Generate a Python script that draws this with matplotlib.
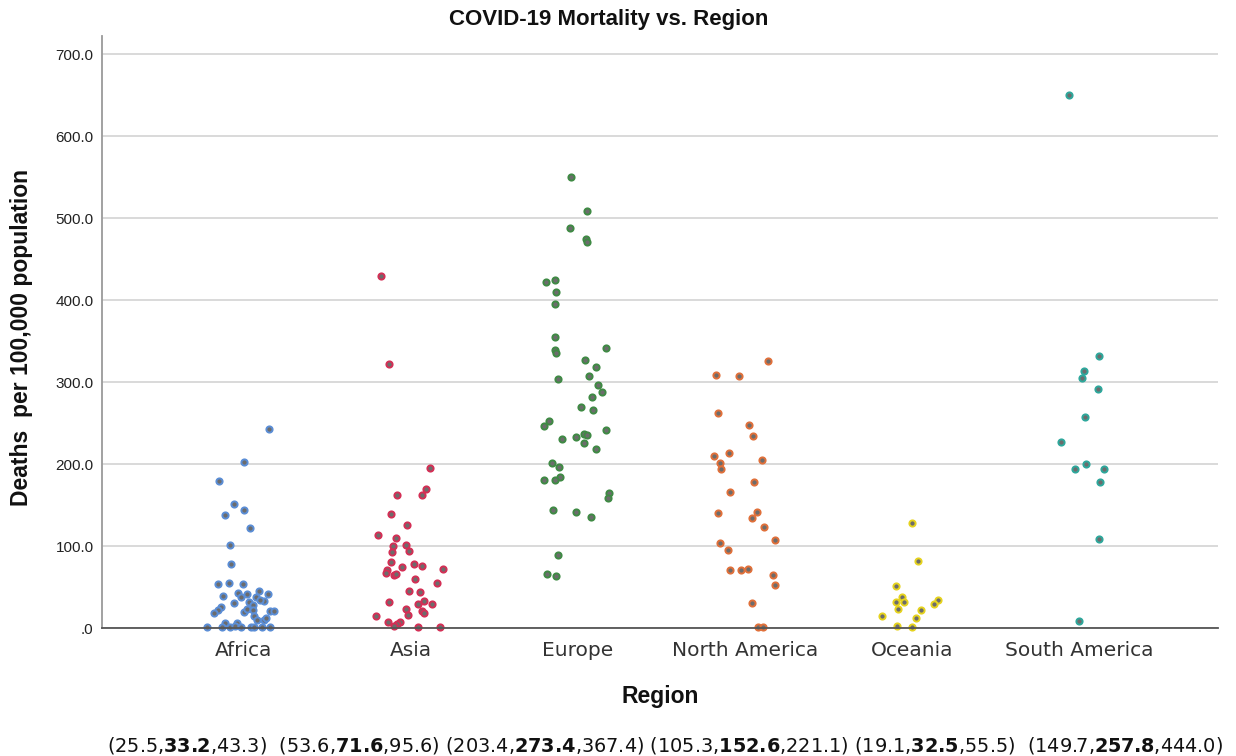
import matplotlib
matplotlib.use("Agg")
import matplotlib.pyplot as plt
from matplotlib.ticker import FuncFormatter

# ---- data -------------------------------------------------------------
regions = ["Africa", "Asia", "Europe", "North America", "Oceania", "South America"]

africa = [242.7, 202.8, 179.7, 151.2, 144.3, 137.8, 121.5, 101.6, 77.7, 53.3,
          54.5, 53.3, 45.5, 41.8, 43.1, 39.0, 41.1, 37.8, 37.8, 33.3,
          34.1, 31.3, 30.1, 28.0, 26.0, 22.0, 18.7, 19.5, 22.8, 22.0,
          20.3, 20.3, 14.6, 9.8, 9.8, 11.8, 6.5, 6.5, 1.2, 1.2,
          1.2, 2.4, 1.2, 1.2, 1.2, 1.2, 1.2]
africa_dx = [0.152, 0.002, -0.146, -0.058, 0.004, -0.110, 0.042, -0.078, -0.074, -0.154,
             -0.084, 0.000, 0.096, 0.146, -0.032, -0.120, 0.022, -0.014, 0.074, 0.122,
             0.098, 0.036, -0.058, 0.060, -0.136, -0.150, -0.178, 0.002, 0.022, 0.058,
             0.158, 0.182, 0.066, 0.082, 0.126, 0.138, -0.108, -0.038, -0.217, -0.128,
             -0.078, -0.052, -0.012, 0.046, 0.066, 0.112, 0.158]

asia = [429.7, 321.5, 194.7, 169.5, 162.2, 162.6, 139.0, 125.6, 113.0, 109.4,
        100.0, 101.6, 93.9, 93.1, 80.5, 78.0, 76.0, 74.8, 70.7, 72.3,
        66.7, 64.6, 65.9, 60.1, 55.3, 45.5, 43.9, 32.1, 33.3, 29.6,
        28.9, 22.8, 20.7, 16.2, 18.3, 14.6, 7.7, 7.3, 5.2, 2.4,
        1.2, 1.2]
asia_dx = [-0.178, -0.130, 0.116, 0.094, 0.070, -0.080, -0.116, -0.020, -0.193, -0.084,
           -0.102, -0.026, -0.006, -0.112, -0.118, 0.020, 0.070, -0.050, -0.138, 0.196,
           -0.146, -0.098, -0.084, 0.026, 0.158, -0.008, 0.058, -0.130, 0.082, 0.126,
           0.048, -0.028, 0.066, -0.014, 0.080, -0.208, -0.132, -0.060, -0.078, -0.098,
           0.046, 0.176]

europe = [550.0, 508.9, 488.2, 474.0, 470.7, 424.4, 422.0, 409.8, 395.5, 354.9,
          341.1, 339.0, 335.8, 326.8, 318.3, 306.9, 304.1, 296.0, 287.8, 281.3,
          269.9, 265.5, 252.8, 246.7, 241.1, 236.2, 235.8, 233.3, 230.9, 226.0,
          217.9, 200.8, 196.3, 183.7, 180.5, 180.5, 165.0, 158.9, 144.3, 141.8,
          135.8, 89.4, 65.9, 63.4]
europe_dx = [-0.038, 0.054, -0.044, 0.048, 0.054, -0.138, -0.190, -0.130, -0.138, -0.138,
             0.170, -0.136, -0.128, 0.046, 0.108, 0.070, -0.116, 0.124, 0.146, 0.086,
             0.020, 0.090, -0.174, -0.202, 0.170, 0.040, 0.054, -0.010, -0.092, 0.040,
             0.110, -0.154, -0.114, -0.106, -0.134, -0.204, 0.190, 0.180, -0.148, -0.012,
             0.080, -0.120, -0.182, -0.130]

north_america = [326.0, 308.5, 306.9, 261.8, 247.6, 233.7, 213.8, 209.8, 204.9, 200.8,
                 194.3, 178.0, 165.9, 139.8, 141.5, 134.6, 123.2, 107.7, 104.1, 95.1,
                 71.1, 71.1, 72.0, 64.6, 52.4, 30.5, 1.6, 1.6]
north_america_dx = [0.136, -0.174, -0.032, -0.162, 0.022, 0.048, -0.096, -0.186, 0.104, -0.150,
                    -0.142, 0.056, -0.086, -0.160, 0.074, 0.040, 0.116, 0.182, -0.150, -0.098,
                    -0.090, -0.026, 0.020, 0.166, 0.180, 0.042, 0.076, 0.108]

oceania = [127.6, 81.7, 51.2, 38.2, 32.1, 32.1, 33.8, 29.6, 23.6, 22.4,
           15.0, 11.8, 2.4, 1.6]
oceania_dx = [-0.002, 0.034, -0.098, -0.062, -0.098, -0.050, 0.158, 0.132, -0.082, 0.054,
              -0.182, 0.022, -0.088, 0.000]

south_america = [650.2, 331.2, 313.0, 305.2, 290.9, 257.1, 226.8, 200.0, 193.9, 193.5,
                 178.4, 109.1, 8.7]
south_america_dx = [-0.064, 0.118, 0.028, 0.016, 0.112, 0.032, -0.108, 0.042, -0.024, 0.148,
                    0.126, 0.120, -0.004]

# (lower, median, upper) summary for each region
ci_low = [25.5, 53.6, 203.4, 105.3, 19.1, 149.7]
ci_mid = [33.2, 71.6, 273.4, 152.6, 32.5, 257.8]
ci_high = [43.3, 95.6, 367.4, 221.1, 55.5, 444.0]

series = [(africa, africa_dx), (asia, asia_dx), (europe, europe_dx),
          (north_america, north_america_dx), (oceania, oceania_dx),
          (south_america, south_america_dx)]
colors = ["#5b8ed6", "#d42f55", "#3f8a44", "#e0703a", "#e6d31e", "#2ea89c"]

# ---- figure -----------------------------------------------------------
W, H = 1236, 756
fig = plt.figure(figsize=(W / 100, H / 100), dpi=100)
fig.patch.set_facecolor("white")
ax = fig.add_axes([102 / W, 1 - 628 / H, (1218 - 102) / W, (628 - 36) / H])

for i, ((vals, dx), col) in enumerate(zip(series, colors)):
    xs = [i + d for d in dx]
    ax.scatter(xs, vals, s=20, facecolor="#6c6c6c", edgecolor=col,
               linewidth=1.4, zorder=3, clip_on=False)

ax.set_xlim(-0.845, 5.83)
ax.set_ylim(0, 722)

ax.set_yticks(range(0, 701, 100))
ax.yaxis.set_major_formatter(
    FuncFormatter(lambda v, p: ".0" if v == 0 else f"{v:.1f}"))
ax.set_xticks(range(len(regions)))
ax.set_xticklabels(regions, fontsize=14.5, color="#333333", family="DejaVu Sans")
ax.tick_params(axis="x", length=0, pad=9)
ax.tick_params(axis="y", length=0, pad=6, labelsize=11, labelcolor="#222222")
for lab in ax.get_yticklabels():
    lab.set_family("Liberation Sans")

ax.grid(axis="y", color="#d3d3d3", linewidth=1.2)
ax.set_axisbelow(True)
for s in ("top", "right"):
    ax.spines[s].set_visible(False)
ax.spines["left"].set_color("#9a9a9a")
ax.spines["left"].set_linewidth(1.3)
ax.spines["bottom"].set_color("#555555")
ax.spines["bottom"].set_linewidth(1.3)
ax.spines["bottom"].set_zorder(4)

fig.text(609 / W, 1 - 19 / H, "COVID-19 Mortality vs. Region", ha="center", va="center",
         fontsize=16, fontweight="bold", family="Liberation Sans", color="#111111")
fig.text(22 / W, 1 - 337 / H, "Deaths  per 100,000 population", rotation=90,
         ha="center", va="center", fontsize=16.5, fontweight="bold",
         family="Liberation Sans", color="#111111")
fig.text(660 / W, 1 - 697 / H, "Region", ha="center", va="center",
         fontsize=16.5, fontweight="bold", family="Liberation Sans", color="#111111")

# summary line under the axis, median in bold
groups = [rf"({lo:.1f},$\mathbf{{{mid:.1f}}}$,{hi:.1f})"
          for lo, mid, hi in zip(ci_low, ci_mid, ci_high)]
seps = ["  ", " ", " ", " ", "  "]
line = groups[0]
for sep, g in zip(seps, groups[1:]):
    line += sep + g
fig.text(107 / W, 1 - 745 / H, line, ha="left", va="center", fontsize=13.9,
         family="DejaVu Sans", color="#111111")

fig.savefig("out.png", dpi=100)
